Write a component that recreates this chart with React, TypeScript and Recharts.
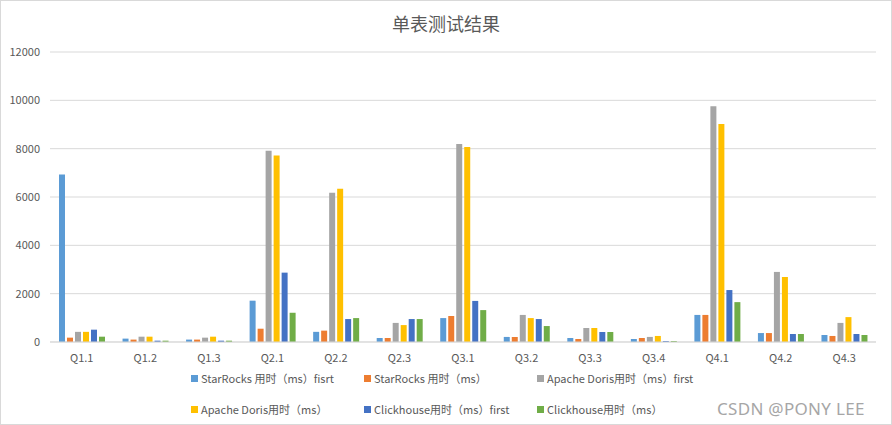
import React from "react";
import { BarChart, Bar, XAxis, YAxis, CartesianGrid } from "recharts";

const queries = ["Q1.1", "Q1.2", "Q1.3", "Q2.1", "Q2.2", "Q2.3", "Q3.1", "Q3.2", "Q3.3", "Q3.4", "Q4.1", "Q4.2", "Q4.3"];

const starRocksFirst = [6930, 140, 100, 1710, 420, 165, 990, 210, 165, 125, 1120, 370, 290];
const starRocks = [180, 100, 100, 550, 470, 165, 1075, 210, 125, 165, 1120, 370, 250];
const dorisFirst = [420, 220, 180, 7910, 6180, 790, 8190, 1120, 580, 210, 9760, 2900, 790];
const doris = [420, 220, 220, 7720, 6340, 700, 8070, 990, 580, 250, 9020, 2690, 1030];
const clickhouseFirst = [510, 55, 55, 2870, 950, 950, 1700, 950, 415, 40, 2150, 330, 330];
const clickhouse = [220, 55, 55, 1210, 990, 950, 1320, 660, 415, 40, 1650, 330, 290];

const yTicks = [0, 2000, 4000, 6000, 8000, 10000, 12000];

const seriesNames = [
  "StarRocks 用时（ms）fisrt",
  "StarRocks 用时（ms）",
  "Apache Doris用时（ms）first",
  "Apache Doris用时（ms）",
  "Clickhouse用时（ms）first",
  "Clickhouse用时（ms）",
];
const seriesColors = ["#5b9bd5", "#ed7d31", "#a5a5a5", "#ffc000", "#4472c4", "#70ad47"];

const data = queries.map((q, i) => ({
  name: q,
  s0: starRocksFirst[i],
  s1: starRocks[i],
  s2: dorisFirst[i],
  s3: doris[i],
  s4: clickhouseFirst[i],
  s5: clickhouse[i],
}));

const FONT = "'Noto Sans CJK SC', 'Noto Sans', sans-serif";
const TEXT = "#595959";

// legend laid out in a fixed 3-column grid like the Excel one
function LegendGrid() {
  const cols = [190, 363, 536];
  return (
    <div style={{ position: "absolute", left: 0, top: 369, width: 892, height: 50 }}>
      {seriesNames.map((n, i) => (
        <div
          key={n}
          style={{
            position: "absolute",
            left: cols[i % 3],
            top: i < 3 ? 0 : 31,
            display: "flex",
            alignItems: "center",
            fontSize: 11,
            color: TEXT,
            fontFamily: FONT,
            whiteSpace: "nowrap",
          }}
        >
          <span style={{ display: "inline-block", width: 7, height: 7, background: seriesColors[i], marginRight: 3 }} />
          {n}
        </div>
      ))}
    </div>
  );
}

export default function App() {
  return (
    <div
      style={{
        position: "absolute",
        left: 0,
        top: 0,
        width: 892,
        height: 425,
        background: "#fff",
        border: "1px solid #d9d9d9",
        boxSizing: "border-box",
        fontFamily: FONT,
      }}
    >
      <div
        style={{
          position: "absolute",
          top: 9,
          width: "100%",
          textAlign: "center",
          fontSize: 18,
          color: TEXT,
        }}
      >
        单表测试结果
      </div>
      <div style={{ position: "absolute", left: -1, top: -1 }}>
        <BarChart
          width={892}
          height={425}
          data={data}
          margin={{ top: 52, right: 16, left: 0, bottom: 53 }}
          barSize={6}
          barGap={2}
        >
          <CartesianGrid vertical={false} stroke="#d9d9d9" />
          <XAxis
            dataKey="name"
            axisLine={{ stroke: "#d9d9d9" }}
            tickLine={false}
            height={30}
            tick={{ fontSize: 11, fill: TEXT, fontFamily: FONT }}
            tickMargin={6}
          />
          <YAxis
            domain={[0, 12000]}
            ticks={yTicks}
            width={50}
            axisLine={false}
            tickLine={false}
            tickMargin={4}
            tick={{ fontSize: 11, fill: TEXT, fontFamily: FONT }}
          />
          {seriesNames.map((n, i) => (
            <Bar key={n} dataKey={`s${i}`} name={n} fill={seriesColors[i]} isAnimationActive={false} />
          ))}
        </BarChart>
      </div>
      <LegendGrid />
      <div
        style={{
          position: "absolute",
          left: 716,
          top: 396,
          fontSize: 17,
          color: "#a6a6a6",
          fontFamily: "'Noto Sans', sans-serif",
          letterSpacing: 0.3,
        }}
      >
        CSDN @PONY LEE
      </div>
    </div>
  );
}
